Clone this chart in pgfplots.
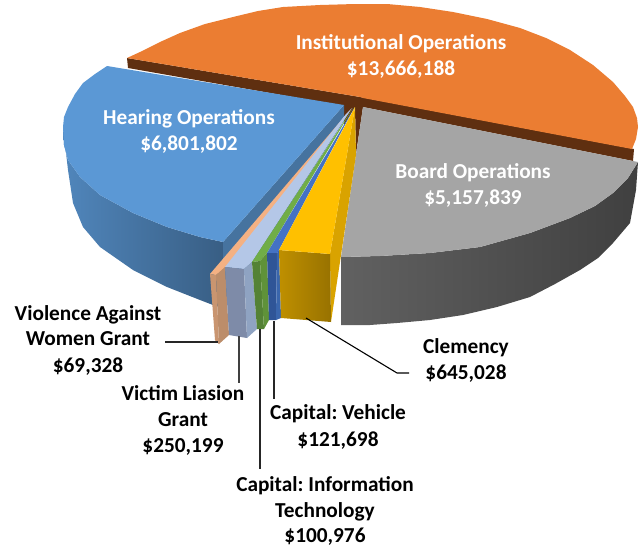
\documentclass[border=0pt]{standalone}
\usepackage{pgfplots}
\pgfplotsset{compat=1.18}
\usepackage{fontspec}
\setmainfont{Carlito}
\frenchspacing
\definecolor{cBrown}{HTML}{5F2F10}
\definecolor{cOrange}{HTML}{EB7D32}
\definecolor{cGrey}{HTML}{A5A5A5}
\definecolor{cBlue}{HTML}{5B98D5}
\definecolor{cBlueDark}{HTML}{46739F}
\definecolor{cYel}{HTML}{FFC000}
\definecolor{cYelSide}{HTML}{D9A300}
\definecolor{cVeh}{HTML}{4472C4}
\definecolor{cVehF}{HTML}{2F5597}
\definecolor{cVehS}{HTML}{3A66AC}
\definecolor{cGr}{HTML}{70AD47}
\definecolor{cGrF}{HTML}{548235}
\definecolor{cGrS}{HTML}{5F9239}
\definecolor{cLb}{HTML}{B4C7E7}
\definecolor{cLbF}{HTML}{7E8BA8}
\definecolor{cLbS}{HTML}{8FA3C2}
\definecolor{cSal}{HTML}{F4B183}
\definecolor{cSalF}{HTML}{C99570}
\definecolor{cSalS}{HTML}{BC8D6A}
\newcommand{\lab}[4][black]{\node[anchor=base,text=#1,font=\fontsize{21.3}{23}\selectfont\bfseries,inner sep=0pt] at (axis cs:#2,#3) {#4};}
\begin{document}
\begin{tikzpicture}
\path[use as bounding box] (0,0) rectangle (641pt,546pt);
\begin{axis}[at={(0,0)},anchor=south west,scale only axis,width=641pt,height=546pt,
 xmin=0,xmax=641,ymin=0,ymax=546,y dir=reverse,axis lines=none,clip=false,
 every axis plot/.append style={no markers,draw=none}]
% orange side wall
\addplot[fill=cBrown] coordinates {(127,58)(128,68)(344,106)(344,125)(355,107)(356,154)(363,107)(633,161)(634,149)(360,97)} --cycle;
% orange top
\addplot[fill=cOrange] coordinates {(127,58)(140,52)(160,42)(180,33)(205,24)(233,17)(258,11)(283,7)(320,5)(355,4)(387,4)(420,7)(453,12)(487,19)(520,28)(546,38)(570,50)(593,65)(613,82)(625,96)(633,107)(637,118)(638,127)(636,139)(632,149)(363,98)(360,97)} --cycle;
% grey side
\addplot[left color=black!62,middle color=black!74,right color=black!75] coordinates {(341,257)(380,256)(430,253)(480,247)(530,233)(570,218)(595,206)(613,193)(628,178)(638,162)(636,190)(630,223)(613,243)(598,258)(580,270)(555,284)(530,297)(497,307)(463,315)(430,320)(397,323)(370,325)(341,325)} --cycle;
% grey top
\addplot[fill=cGrey] coordinates {(363,107)(638,162)(628,178)(613,193)(595,206)(570,218)(530,233)(480,247)(430,253)(380,256)(341,257)} --cycle;
% hearing side
\addplot[left color=cBlue!88!black,right color=cBlue!62!black] coordinates {(63,127)(64,145)(68,160)(80,177)(100,195)(133,213)(167,227)(200,237)(223,242)(223,308)(213,305)(200,300)(167,287)(133,270)(100,247)(83,227)(73,203)(68,170)} --cycle;
% hearing inner wall
\addplot[fill=cBlueDark] coordinates {(344,105)(223,242)(223,308)(344,121)} --cycle;
% hearing top
\addplot[fill=cBlue] coordinates {(107,66)(95,74)(83,83)(75,94)(68,107)(64,117)(63,127)(64,145)(68,160)(80,177)(100,195)(133,213)(167,227)(200,237)(223,242)(344,105)} --cycle;
% violence
\addplot[fill=cSal] coordinates {(210,274)(216,275)(227,267)(351,109)(345,116)} --cycle;
\addplot[fill=cSalF] coordinates {(210,274)(216,275)(219,344)(215,340)} --cycle;
\addplot[fill=cSalS] coordinates {(216,275)(225,267)(229,335)(219,344)} --cycle;
% victim
\addplot[fill=cLb] coordinates {(225,267)(244,269)(252,262)(352,108)(346,114)} --cycle;
\addplot[fill=cLbF] coordinates {(225,267)(244,269)(247,338)(229,335)} --cycle;
\addplot[fill=cLbS] coordinates {(244,269)(252,262)(257,329)(247,338)} --cycle;
% info
\addplot[fill=cGr] coordinates {(252,262)(260,261)(267,253)(353,108)} --cycle;
\addplot[fill=cGrF] coordinates {(252,262)(260,261)(264,329)(257,329)} --cycle;
\addplot[fill=cGrS] coordinates {(260,261)(267,253)(269,320)(264,329)} --cycle;
% vehicle
\addplot[fill=cVeh] coordinates {(267,253)(277,253)(279,250)(354,108)} --cycle;
\addplot[fill=cVehF] coordinates {(267,253)(277,253)(276,320)(269,320)} --cycle;
\addplot[fill=cVehS] coordinates {(277,253)(279,250)(281,318)(276,320)} --cycle;
% clemency
\addplot[fill=cYelSide] coordinates {(355,107)(356,155)(331,322)(330,254)} --cycle;
\addplot[left color=cYelSide!88!black,right color=cYelSide!70!black] coordinates {(279,250)(330,254)(331,322)(281,318)} --cycle;
\addplot[fill=cYel] coordinates {(279,250)(330,254)(355,107)} --cycle;
% leaders
\addplot[draw=black!85,line width=1.2pt] coordinates {(165,342)(218,342)};
\addplot[draw=black!75,line width=1.3pt] coordinates {(239,336)(239,383)};
\addplot[draw=black!85,line width=1.2pt] coordinates {(260,329)(260,469)};
\addplot[draw=black!85,line width=1.2pt] coordinates {(274,321)(274,399)};
\addplot[draw=black,line width=1.1pt] coordinates {(306,318)(397,373)(409,373)};
% labels
\lab[white]{401}{49}{Institutional Operations}
\lab[white]{401}{75}{\$13,666,188}
\lab[white]{189}{124}{Hearing Operations}
\lab[white]{189}{150}{\$6,801,802}
\lab[white]{473}{178}{Board Operations}
\lab[white]{473}{204}{\$5,157,839}
\lab{88}{320}{Violence Against}
\lab{88}{345}{Women Grant}
\lab{88}{372}{\$69,328}
\lab{183}{400}{Victim Liasion}
\lab{183}{426}{Grant}
\lab{183}{452}{\$250,199}
\lab{466}{353}{Clemency}
\lab{466}{379}{\$645,028}
\lab{338}{419}{Capital: Vehicle}
\lab{338}{446}{\$121,698}
\lab{325}{491}{Capital: Information}
\lab{325}{517}{Technology}
\lab{325}{542}{\$100,976}
\end{axis}
\end{tikzpicture}
\end{document}
